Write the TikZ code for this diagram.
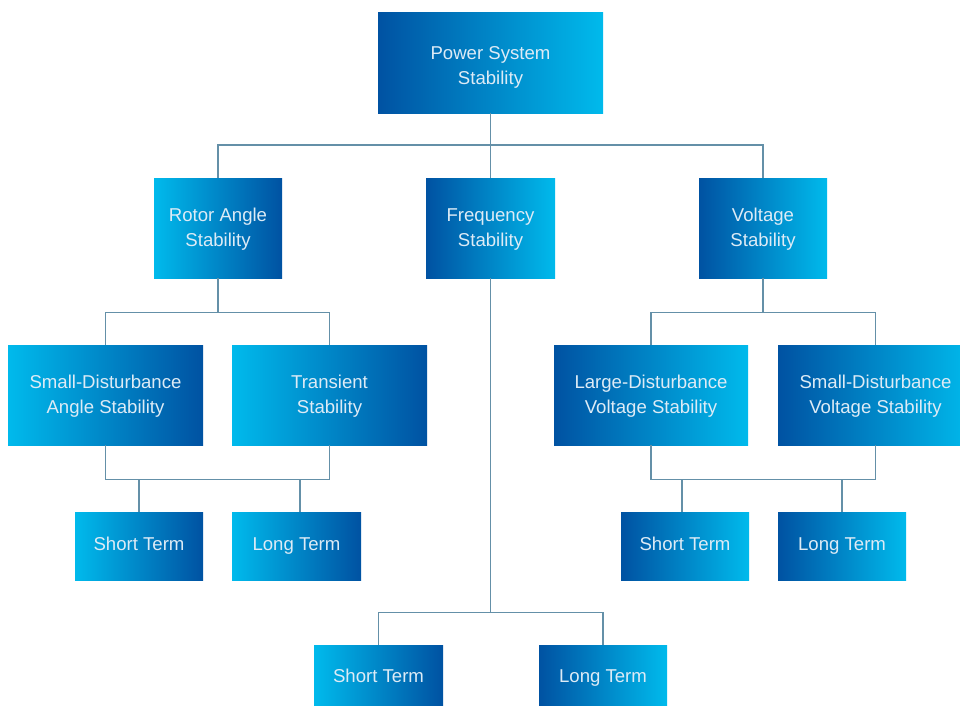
\documentclass[tikz,border=0pt]{standalone}
\usepackage{fontspec}
\setmainfont{Liberation Sans}
\usetikzlibrary{calc}
\definecolor{dk}{HTML}{0052A2}
\definecolor{lt}{HTML}{00BAEC}
\definecolor{ln}{HTML}{6490A8}
\definecolor{tx}{HTML}{DDEBF6}
\begin{document}
\begin{tikzpicture}[x=1pt,y=-1pt,
  box/.style={draw=none, inner sep=0pt},
  lab/.style={text=tx, align=center, inner sep=0pt,
    font=\fontsize{18.6}{25}\selectfont},
  one/.style={lab, text height=0.72em, text depth=0.22em},
  dl/.style={box, left color=dk, right color=lt},
  ld/.style={box, left color=lt, right color=dk},
  con/.style={draw=ln, line width=1.4pt}]
\useasboundingbox (0,0) rectangle (960,705);
% level 0
\node[dl, minimum width=225pt, minimum height=101pt,
  label={[lab,yshift=-5pt]center:{Power System\\Stability}}] (ps) at (490.5,62.5) {};
% level 1
\node[ld, minimum width=128pt, minimum height=100pt,
  label={[lab,yshift=-1.5pt]center:{Rotor Angle\\Stability}}] (ra) at (218,228) {};
\node[dl, minimum width=129pt, minimum height=100pt,
  label={[lab,yshift=-1.5pt]center:{Frequency\\Stability}}] (fs) at (490.5,228) {};
\node[dl, minimum width=128pt, minimum height=100pt,
  label={[lab,yshift=-1.5pt]center:{Voltage\\Stability}}] (vs) at (763,228) {};
% level 2
\node[ld, minimum width=195pt, minimum height=100pt,
  label={[lab,yshift=-1pt]center:{Small-Disturbance\\Angle Stability}}] (sda) at (105.5,395) {};
\node[ld, minimum width=195pt, minimum height=100pt,
  label={[lab,yshift=-1pt]center:{Transient\\Stability}}] (ts) at (329.5,395) {};
\node[dl, minimum width=194pt, minimum height=100pt,
  label={[lab,yshift=-1pt]center:{Large-Disturbance\\Voltage Stability}}] (ldv) at (651,395) {};
\node[dl, minimum width=195pt, minimum height=100pt,
  label={[lab,yshift=-1pt]center:{Small-Disturbance\\Voltage Stability}}] (sdv) at (875.5,395) {};
% level 3
\node[ld, minimum width=128pt, minimum height=68pt,
  label={[one,yshift=-2pt]center:Short Term}] (st1) at (139,546) {};
\node[ld, minimum width=129pt, minimum height=68pt,
  label={[one,yshift=-2pt]center:Long Term}] (lt1) at (296.5,546) {};
\node[dl, minimum width=128pt, minimum height=68pt,
  label={[one,yshift=-2pt]center:Short Term}] (st2) at (685,546) {};
\node[dl, minimum width=128pt, minimum height=68pt,
  label={[one,yshift=-2pt]center:Long Term}] (lt2) at (842,546) {};
% frequency children
\node[ld, minimum width=129pt, minimum height=68pt,
  label={[one,yshift=-1pt]center:Short Term}] (st3) at (378.5,679) {};
\node[dl, minimum width=128pt, minimum height=68pt,
  label={[one,yshift=-1pt]center:Long Term}] (lt3) at (603,679) {};
% connectors
\draw[con] (ps.south) -- (fs.north);
\coordinate (j1) at (490.5,145);
\draw[con] (ra.north) |- (j1) -| (vs.north);
\draw[con] (ra.south) -- ++(0,34) coordinate (j2);
\draw[con] (sda.north) |- (j2) -| (ts.north);
\draw[con] (sda.south) -- ++(0,34) -| (ts.south);
\draw[con] (st1.north) -- ++(0,-33);
\draw[con] ($(lt1.north)+(3.5,0)$) -- ++(0,-33);
\draw[con] (fs.south) -- ++(0,334) coordinate (j4);
\draw[con] (st3.north) |- (j4) -| (lt3.north);
\draw[con] (vs.south) -- ++(0,34) coordinate (j5);
\draw[con] (ldv.north) |- (j5) -| (sdv.north);
\draw[con] (ldv.south) -- ++(0,34) -| (sdv.south);
\draw[con] ($(st2.north)+(-3,0)$) -- ++(0,-33);
\draw[con] (lt2.north) -- ++(0,-33);
\end{tikzpicture}
\end{document}
